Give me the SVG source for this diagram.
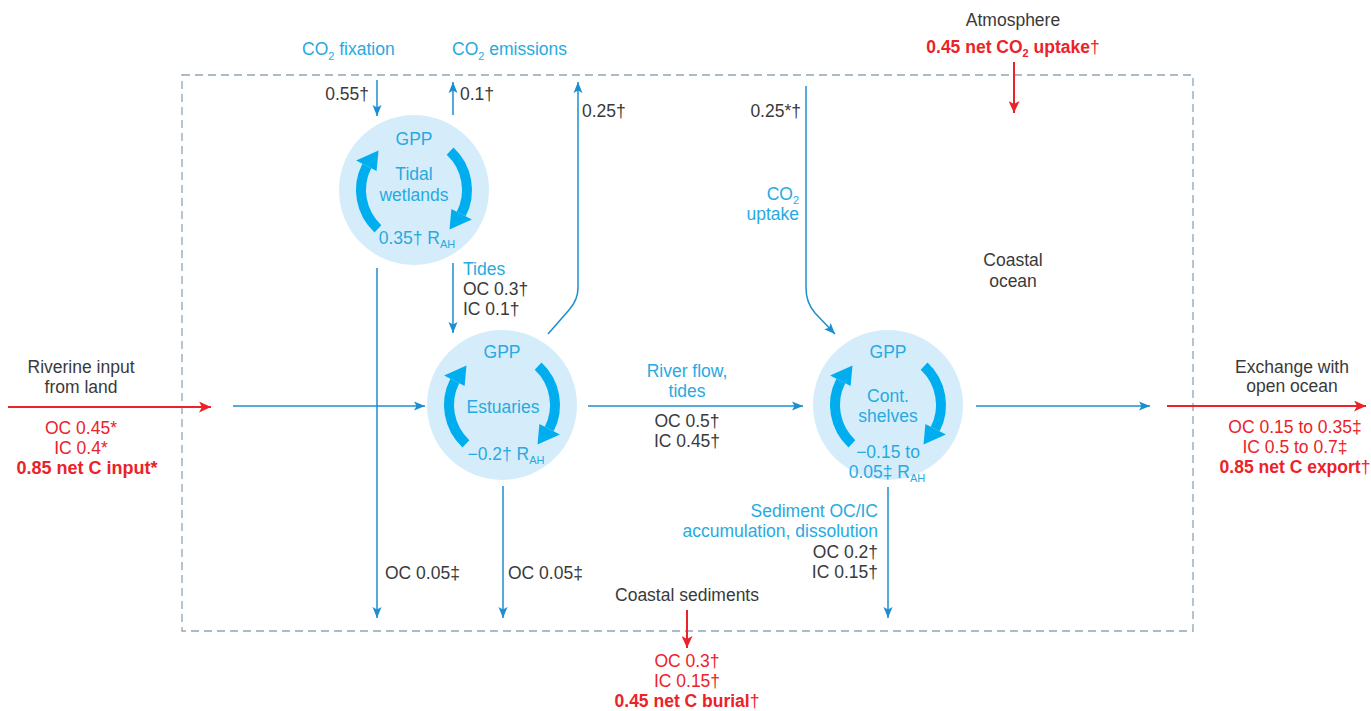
<svg xmlns="http://www.w3.org/2000/svg" width="1371" height="711" viewBox="0 0 1371 711">
<defs>
<style>
text{font-family:"Liberation Sans",Arial,sans-serif;font-size:17.5px}
.k{fill:#3a3a3a}
.c{fill:#27aae1}
.r{fill:#ec2229}
.b{font-weight:bold}
.m{text-anchor:middle}
.e{text-anchor:end}
.sub{font-size:11px}
.ln{stroke:#1b8ed0;stroke-width:1.5;fill:none}
.rl{stroke:#ec2229;stroke-width:2;fill:none}
.bub{fill:#d5edfa}
.arc{stroke:#00aeef;stroke-width:10;fill:none}
.box{fill:none;stroke:#8ea6b6;stroke-width:1.3;stroke-dasharray:8 5}
</style>
<marker id="ab" markerUnits="userSpaceOnUse" markerWidth="12" markerHeight="10" refX="11" refY="5" orient="auto"><path d="M0,0.5 L11,5 L0,9.5 L2.5,5 Z" fill="#1b8ed0"/></marker>
<marker id="ar" markerUnits="userSpaceOnUse" markerWidth="13" markerHeight="11" refX="12" refY="5.5" orient="auto"><path d="M0,0 L12,5.5 L0,11 L3,5.5 Z" fill="#ec2229"/></marker>
<g id="half">
<path class="arc" d="M-36.1,38.8 A53,53 0 0 1 -47.2,-24.1"/>
<path d="M-37.4,-19.1 L-57.9,-29.5 L-35.5,-39.4 Z" fill="#00aeef"/>
</g>
</defs>
<rect width="1371" height="711" fill="#ffffff"/>
<rect class="box" x="182" y="75" width="1011" height="556"/>

<g id="tidal-wetlands">
<circle class="bub" cx="414" cy="190" r="75"/>
<use href="#half" transform="translate(414,190)"/>
<use href="#half" transform="translate(414,190) rotate(180)"/>
<text class="c m" x="414" y="145">GPP</text>
<text class="c m" x="414" y="180">Tidal</text>
<text class="c m" x="414" y="201">wetlands</text>
<text class="c m" x="417" y="244">0.35† R<tspan class="sub" dy="4">AH</tspan></text>
</g>

<g id="estuaries">
<circle class="bub" cx="502" cy="405" r="75"/>
<use href="#half" transform="translate(502,405)"/>
<use href="#half" transform="translate(502,405) rotate(180)"/>
<text class="c m" x="502" y="358">GPP</text>
<text class="c m" x="503" y="413">Estuaries</text>
<text class="c m" x="506" y="460">−0.2† R<tspan class="sub" dy="4">AH</tspan></text>
</g>

<g id="cont-shelves">
<circle class="bub" cx="888" cy="405" r="75"/>
<use href="#half" transform="translate(888,405)"/>
<use href="#half" transform="translate(888,405) rotate(180)"/>
<text class="c m" x="888" y="358">GPP</text>
<text class="c m" x="888" y="402">Cont.</text>
<text class="c m" x="888" y="422">shelves</text>
<text class="c m" x="888" y="458">−0.15 to</text>
<text class="c m" x="887" y="478">0.05‡ R<tspan class="sub" dy="4">AH</tspan></text>
</g>

<g id="connectors">
<path class="ln" d="M377,80 V116" marker-end="url(#ab)"/>
<path class="ln" d="M453,115 V82" marker-end="url(#ab)"/>
<path class="ln" d="M548,334 L569,310 C576,302 578,296 578,288 V82" marker-end="url(#ab)"/>
<path class="ln" d="M806,86 V288 C806,298 809,306 815,313 L835,334" marker-end="url(#ab)"/>
<path class="ln" d="M453,263 V333" marker-end="url(#ab)"/>
<path class="ln" d="M377,268 V618" marker-end="url(#ab)"/>
<path class="ln" d="M503,486 V618" marker-end="url(#ab)"/>
<path class="ln" d="M888,487 V618" marker-end="url(#ab)"/>
<path class="ln" d="M233,406 H425" marker-end="url(#ab)"/>
<path class="ln" d="M588,406 H803" marker-end="url(#ab)"/>
<path class="ln" d="M976,406 H1150" marker-end="url(#ab)"/>
<path class="rl" d="M8,407 H211" marker-end="url(#ar)"/>
<path class="rl" d="M1167,406 H1366" marker-end="url(#ar)"/>
<path class="rl" d="M687,610 V648" marker-end="url(#ar)"/>
<path class="rl" d="M1014,62 V113" marker-end="url(#ar)"/>
</g>

<g id="labels">
<text class="c" x="302" y="55">CO<tspan class="sub" dy="5">2</tspan><tspan dy="-5"> fixation</tspan></text>
<text class="c" x="452" y="55">CO<tspan class="sub" dy="5">2</tspan><tspan dy="-5"> emissions</tspan></text>
<text class="k e" x="369" y="100">0.55†</text>
<text class="k" x="460" y="100">0.1†</text>
<text class="k" x="582" y="117">0.25†</text>
<text class="k e" x="801" y="117">0.25*†</text>
<text class="c e" x="799" y="200">CO<tspan class="sub" dy="4">2</tspan></text>
<text class="c e" x="799" y="220">uptake</text>
<text class="k m" x="1013" y="26">Atmosphere</text>
<text class="r b m" x="1013" y="53">0.45 net CO<tspan class="sub" dy="4">2</tspan><tspan dy="-4"> uptake</tspan><tspan style="font-weight:normal">†</tspan></text>
<text class="k m" x="1013" y="266">Coastal</text>
<text class="k m" x="1013" y="287">ocean</text>
<text class="c" x="463" y="275">Tides</text>
<text class="k" x="463" y="295">OC 0.3†</text>
<text class="k" x="463" y="315">IC 0.1†</text>
<text class="c m" x="687" y="377">River flow,</text>
<text class="c m" x="687" y="397">tides</text>
<text class="k m" x="687" y="427">OC 0.5†</text>
<text class="k m" x="687" y="447">IC 0.45†</text>
<text class="k m" x="81" y="373">Riverine input</text>
<text class="k m" x="81" y="393">from land</text>
<text class="r m" x="81" y="434">OC 0.45*</text>
<text class="r m" x="81" y="454">IC 0.4*</text>
<text class="r b m" x="87" y="474" style="font-size:18px">0.85 net C input*</text>
<text class="k m" x="1292" y="373">Exchange with</text>
<text class="k m" x="1292" y="392">open ocean</text>
<text class="r m" x="1295" y="433">OC 0.15 to 0.35‡</text>
<text class="r m" x="1295" y="453">IC 0.5 to 0.7‡</text>
<text class="r b m" x="1295" y="473">0.85 net C export<tspan style="font-weight:normal">†</tspan></text>
<text class="c e" x="878" y="517">Sediment OC/IC</text>
<text class="c e" x="878" y="537">accumulation, dissolution</text>
<text class="k e" x="878" y="558">OC 0.2†</text>
<text class="k e" x="878" y="578">IC 0.15†</text>
<text class="k" x="385" y="579">OC 0.05‡</text>
<text class="k" x="508" y="579">OC 0.05‡</text>
<text class="k m" x="687" y="601">Coastal sediments</text>
<text class="r m" x="687" y="667">OC 0.3†</text>
<text class="r m" x="687" y="687">IC 0.15†</text>
<text class="r b m" x="687" y="707">0.45 net C burial<tspan style="font-weight:normal">†</tspan></text>
</g>
</svg>
